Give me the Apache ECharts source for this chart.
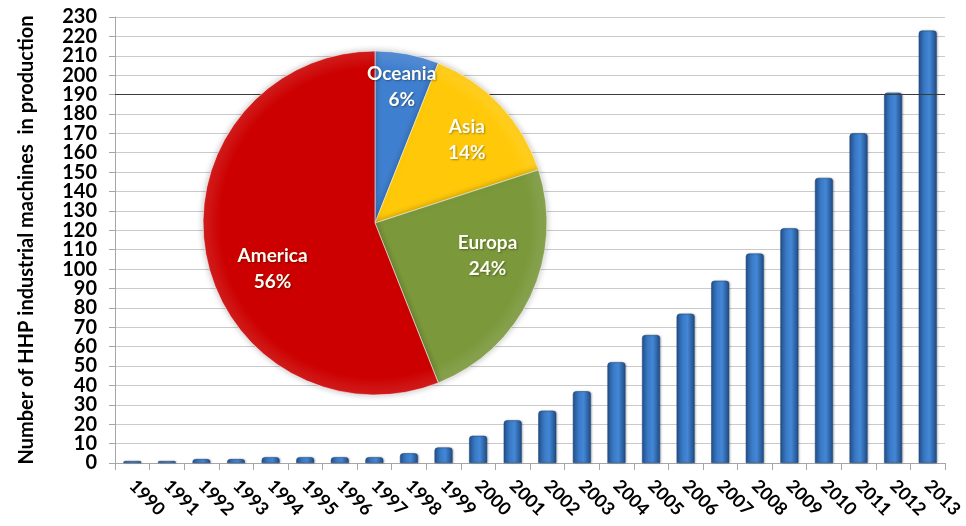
<!DOCTYPE html>
<html>
<head>
<meta charset="utf-8">
<script src="https://cdn.jsdelivr.net/npm/echarts@6/dist/echarts.min.js"></script>
<style>
  html, body { margin: 0; padding: 0; background: #fff; }
  #chart { width: 966px; height: 526px; }
</style>
</head>
<body>
<div id="chart"></div>
<script>
// Yearly count of HHP industrial machines in production
const years = ['1990','1991','1992','1993','1994','1995','1996','1997','1998','1999','2000','2001',
               '2002','2003','2004','2005','2006','2007','2008','2009','2010','2011','2012','2013'];
const machines = [1, 1, 2, 2, 3, 3, 3, 3, 5, 8, 14, 22, 27, 37, 52, 66, 77, 94, 108, 121, 147, 170, 191, 223];

// Share of machines by region (%)
const regions = ['Oceania', 'Asia', 'Europa', 'America'];
const regionShare = [6, 14, 24, 56];

// Y axis range and step
const yMin = 0, yMax = 230, yStep = 10;
const accentLevel = 190;

const regionColors = ['#3f7fcf', '#ffc90a', '#7b983b', '#cc0000'];
const pieCenter = [375, 223];
const pieRadius = 172;
// nudges for the inside labels, in pixels
const labelNudge = [[10, -49], [27, -22], [32, -5], [-15, 29]];

const font = 'Lato, "Open Sans", sans-serif';

const chart = echarts.init(document.getElementById('chart'), null, { renderer: 'canvas' });

const barColor = {
  type: 'linear', x: 0, y: 0, x2: 1, y2: 0,
  colorStops: [
    { offset: 0, color: '#24538f' },
    { offset: 0.35, color: '#3b7bc8' },
    { offset: 0.6, color: '#4387d6' },
    { offset: 1, color: '#1f4a82' }
  ]
};

// The tick labels are tightly packed, so they are split over two stacked
// value axes (even steps on one, odd steps on the other) to keep every label.
const tickLabel = (parity) => ({
  margin: 18,
  color: '#000', fontFamily: font, fontWeight: 'bold', fontSize: 20,
  showMinLabel: true, showMaxLabel: true,
  formatter: v => (Math.round(v / yStep) % 2 === parity ? String(v) : '')
});

chart.setOption({
  animation: false,
  backgroundColor: '#ffffff',
  grid: { left: 115, right: 21, top: 17, bottom: 63, containLabel: false },
  xAxis: {
    type: 'category',
    data: years,
    axisLine: { show: true, lineStyle: { color: '#a6a6a6', width: 1 } },
    axisTick: { show: true, alignWithLabel: false, length: 7, lineStyle: { color: '#a6a6a6' } },
    axisLabel: {
      rotate: -45, interval: 0, margin: 20,
      color: '#000', fontFamily: font, fontWeight: 'bold', fontSize: 18
    },
    splitLine: { show: false }
  },
  yAxis: [
    {
      type: 'value',
      position: 'left',
      min: yMin, max: yMax, interval: yStep,
      name: 'Number of HHP industrial machines  in production',
      nameLocation: 'middle',
      nameGap: 78,
      nameRotate: 90,
      nameTextStyle: { color: '#000', fontFamily: font, fontWeight: 'bold', fontSize: 20 },
      axisLine: { show: true, lineStyle: { color: '#a6a6a6', width: 1 } },
      axisTick: { show: true, length: 6, lineStyle: { color: '#a6a6a6' } },
      axisLabel: tickLabel(0),
      splitLine: { show: true, lineStyle: { color: '#cacaca', width: 1 } }
    },
    {
      type: 'value',
      position: 'left',
      offset: 0,
      min: yMin, max: yMax, interval: yStep,
      axisLine: { show: false },
      axisTick: { show: false },
      axisLabel: tickLabel(1),
      splitLine: { show: false }
    }
  ],
  series: [
    {
      // darker reference line at the 190 level, drawn behind the bars
      type: 'line',
      data: [],
      z: 1,
      markLine: {
        silent: true,
        symbol: 'none',
        label: { show: false },
        lineStyle: { color: '#3a3a3a', width: 1, type: 'solid' },
        data: [{ yAxis: accentLevel }]
      }
    },
    {
      type: 'bar',
      data: machines,
      barWidth: 18,
      itemStyle: {
        color: barColor,
        borderRadius: [3, 3, 0, 0],
        borderColor: '#1d4578',
        borderWidth: 0.5,
        shadowColor: 'rgba(0,0,0,0.25)',
        shadowBlur: 2,
        shadowOffsetX: 1
      },
      z: 2
    },
    {
      type: 'pie',
      center: pieCenter,
      radius: [0, pieRadius],
      startAngle: 90,
      clockwise: true,
      z: 10,
      data: regions.map((name, i) => ({
        name: name,
        value: regionShare[i],
        itemStyle: {
          color: {
            type: 'radial', global: true,
            x: pieCenter[0], y: pieCenter[1], r: pieRadius,
            colorStops: [
              { offset: 0, color: regionColors[i] },
              { offset: 0.9, color: regionColors[i] },
              { offset: 1, color: echarts.color.lift(regionColors[i], 0.12) }
            ]
          }
        }
      })),
      itemStyle: {
        borderColor: 'rgba(255,255,255,0.55)',
        borderWidth: 1,
        shadowColor: 'rgba(0,0,0,0.25)',
        shadowBlur: 6
      },
      label: {
        show: true,
        position: 'inside',
        formatter: p => p.name + '\n' + p.value + '%',
        color: '#fdfdf2',
        fontFamily: font,
        fontWeight: 'bold',
        fontSize: 19,
        lineHeight: 26,
        align: 'center',
        textShadowColor: 'rgba(0,0,0,0.35)',
        textShadowBlur: 2,
        textShadowOffsetX: 1,
        textShadowOffsetY: 1
      },
      labelLine: { show: false },
      labelLayout: function (params) {
        const n = labelNudge[params.dataIndex];
        return { dx: n[0], dy: n[1] };
      },
      emphasis: { disabled: true }
    }
  ]
});
</script>
</body>
</html>
